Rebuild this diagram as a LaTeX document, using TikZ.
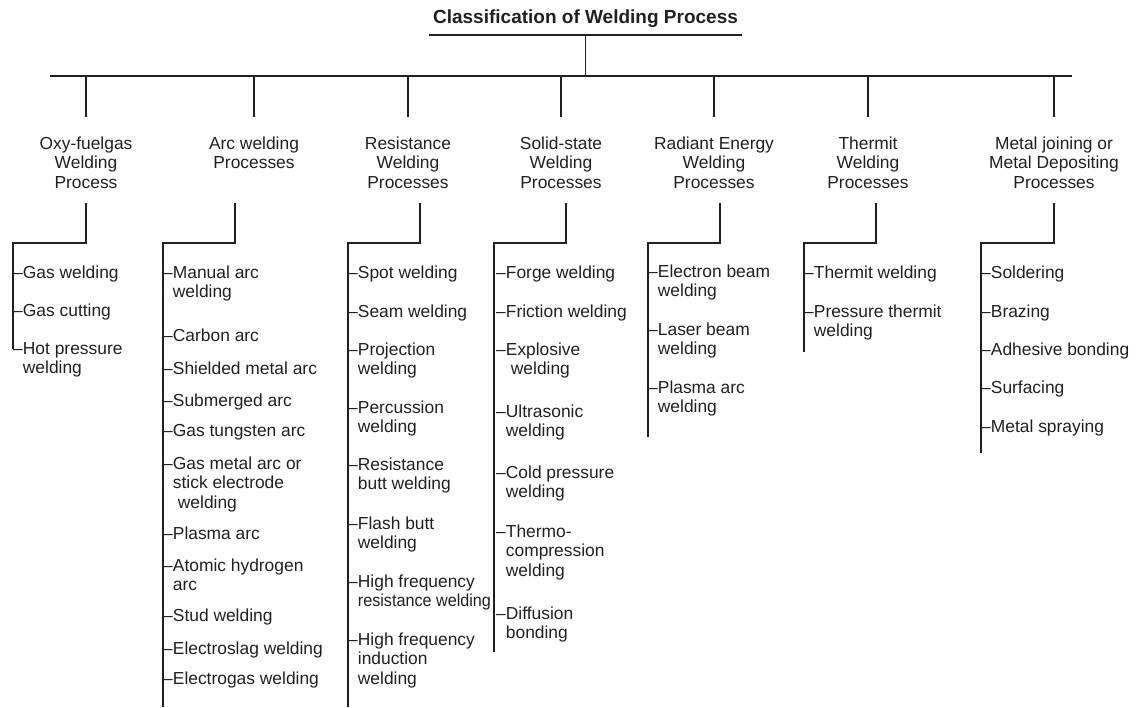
\documentclass[tikz,border=0pt]{standalone}
\usepackage{fontspec}
\usepackage{graphicx}
\setmainfont{Liberation Sans}
\definecolor{ink}{RGB}{35,31,32}
\newcommand\itemtext[1]{\begin{tabular}[t]{@{}l@{}}#1\end{tabular}}
\newcommand\cattext[1]{\begin{tabular}[t]{@{}c@{}}#1\end{tabular}}
\tikzset{
  conn/.style={draw=ink, line width=1.4pt},
  itemnode/.style={anchor=base west, inner sep=0pt, text=ink, font=\fontsize{17.4}{19.8}\selectfont},
  catnode/.style={anchor=base, inner sep=0pt, text=ink, font=\fontsize{17.4}{19.6}\selectfont},
  titlenode/.style={anchor=base, inner sep=0pt, text=ink, font=\fontsize{19}{22}\selectfont\bfseries},
}
\begin{document}
\begin{tikzpicture}[x=1pt,y=-1pt]
\useasboundingbox (0,0) rectangle (1138,707);
% title and main bar
\node[titlenode] (title) at (585.5,23.5) {Classification of Welding Process};
\coordinate (ul-l) at (429,35); \coordinate (ul-r) at (742,35); \coordinate (ul-m) at (585.5,35);
\coordinate (bar-l) at (50,76); \coordinate (bar-r) at (1072,76); \coordinate (bar-m) at (585.5,76);
\draw[conn] (ul-l) -- (ul-r);
\draw[conn] (ul-m) -- (bar-m);
\draw[conn] (bar-l) -- (bar-r);
% column x data: drop / stem / left / end
\foreach \k/\dx/\sx/\lx/\ey in {1/86/86/13/349, 2/254/235/163/707, 3/408/420/348/707, 4/561/566/494/652, 5/714/720/648/437, 6/868/876/804/352, 7/1054/1054/981/453}{
  \coordinate (d\k t) at (\dx,76); \coordinate (d\k b) at (\dx,117);
  \coordinate (s\k t) at (\sx,203); \coordinate (s\k b) at (\sx,243);
  \coordinate (v\k t) at (\lx,243); \coordinate (v\k b) at (\lx,\ey);
  \draw[conn] (d\k t) -- (d\k b);
  \draw[conn] (s\k t) -- (s\k b) -- (v\k t) -- (v\k b);
}
% category labels
\node[catnode] (c1) at (86,149) {\cattext{Oxy-fuelgas\\Welding\\Process}};
\node[catnode] (c2) at (254,149) {\cattext{Arc welding\\Processes}};
\node[catnode] (c3) at (408,149) {\cattext{Resistance\\Welding\\Processes}};
\node[catnode] (c4) at (561,149) {\cattext{Solid-state\\Welding\\Processes}};
\node[catnode] (c5) at (714,149) {\cattext{Radiant Energy\\Welding\\Processes}};
\node[catnode] (c6) at (868,149) {\cattext{Thermit\\Welding\\Processes}};
\node[catnode] (c7) at (1054,149) {\cattext{Metal joining or\\Metal Depositing\\Processes}};
% items column 1
\foreach \n/\y/\txt in {1/272/{Gas welding}, 2/310/{Gas cutting}, 3/348/{Hot pressure\\welding}}
  \node[itemnode] (i1-\n) at (22.7,\y+6) {\itemtext{\llap{–}\txt}};
% column 2
\foreach \n/\y/\txt in {1/272/{Manual arc\\welding}, 2/335/{Carbon arc}, 3/368/{Shielded metal arc}, 4/400/{Submerged arc}, 5/430/{Gas tungsten arc}, 6/463/{Gas metal arc or\\stick electrode\\\hspace*{5pt}welding}, 7/533/{Plasma arc}, 8/565/{Atomic hydrogen\\arc}, 9/615/{Stud welding}, 10/648/{Electroslag welding}, 11/678/{Electrogas welding}}
  \node[itemnode] (i2-\n) at (172.7,\y+6) {\itemtext{\llap{–}\txt}};
% column 3
\foreach \n/\y/\txt in {1/272/{Spot welding}, 2/311/{Seam welding}, 3/349/{Projection\\welding}, 4/407/{Percussion\\welding}, 5/464/{Resistance\\butt welding}, 6/523/{Flash butt\\welding}, 7/581/{High frequency\\\scalebox{0.93}[1]{resistance welding}}, 8/639/{High frequency\\induction\\welding}}
  \node[itemnode] (i3-\n) at (357.7,\y+6) {\itemtext{\llap{–}\txt}};
% column 4
\foreach \n/\y/\txt in {1/272/{Forge welding}, 2/311/{Friction welding}, 3/349/{Explosive\\\hspace*{5pt}welding}, 4/411/{Ultrasonic\\welding}, 5/472/{Cold pressure\\welding}, 6/531/{Thermo-\\compression\\welding}, 7/613/{Diffusion\\bonding}}
  \node[itemnode] (i4-\n) at (505.7,\y+6) {\itemtext{\llap{–}\txt}};
% column 5
\foreach \n/\y/\txt in {1/271/{Electron beam\\welding}, 2/329/{Laser beam\\welding}, 3/387/{Plasma arc\\welding}}
  \node[itemnode] (i5-\n) at (657.7,\y+6) {\itemtext{\llap{–}\txt}};
% column 6
\foreach \n/\y/\txt in {1/272/{Thermit welding}, 2/311/{Pressure thermit\\welding}}
  \node[itemnode] (i6-\n) at (813.7,\y+6) {\itemtext{\llap{–}\txt}};
% column 7
\foreach \n/\y/\txt in {1/272/{Soldering}, 2/311/{Brazing}, 3/349/{Adhesive bonding}, 4/387/{Surfacing}, 5/426/{Metal spraying}}
  \node[itemnode] (i7-\n) at (990.7,\y+6) {\itemtext{\llap{–}\txt}};
\end{tikzpicture}
\end{document}
